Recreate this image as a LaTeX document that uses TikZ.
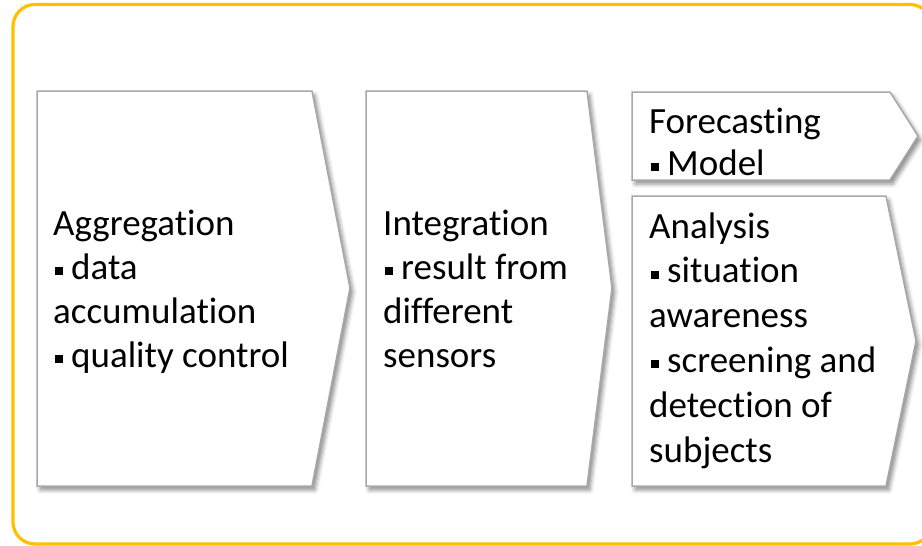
\documentclass[tikz,border=0pt]{standalone}
\usepackage{fontspec}
\setmainfont{Carlito}[Ligatures={NoCommon}]
\usetikzlibrary{shadows.blur}
\definecolor{frameyellow}{HTML}{FFC000}
\definecolor{boxgrey}{HTML}{A8A8A8}
\newcommand\bul{\hspace{2pt}\rule[4pt]{8pt}{8pt}\hspace{8pt}}
\newcommand\stack[2]{\vtop{\baselineskip=#1\relax #2}}
\begin{document}
\begin{tikzpicture}[x=1pt,y=-1pt,
  frame/.style={draw=frameyellow, line width=3.2pt, rounded corners=22pt},
  chevron/.style={draw=boxgrey, line width=1.5pt, fill=white,
    blur shadow={shadow xshift=3pt, shadow yshift=-4pt, shadow blur radius=4pt, shadow opacity=45}},
  txt/.style={anchor=base west, inner sep=0pt, font=\fontsize{37}{44.5}\selectfont}]
\useasboundingbox (0,0) rectangle (922,546);
\begin{scope}
\clip (0,0) rectangle (922,546);
\draw[frame] (13,4.5) rectangle (932,544);
\end{scope}
% chevrons
\draw[chevron] (37,91) -- (312,91) -- (350,288) -- (312,486) -- (37,486) -- cycle;
\draw[chevron] (366,91) -- (587,91) -- (612,288) -- (587,486) -- (366,486) -- cycle;
\draw[chevron] (632,92) -- (890,92) -- (918,136) -- (890,180) -- (632,180) -- cycle;
\draw[chevron] (632,196) -- (886,196) -- (916,341) -- (886,486) -- (632,486) -- cycle;
% texts
\node[txt] (agg) at (53,235) {\stack{44pt}{\hbox{Aggregation}\hbox{\bul data}\hbox{accumulation}\hbox{\bul quality control}}};
\node[txt] (int) at (383,235) {\stack{44pt}{\hbox{Integration}\hbox{\bul result from}\hbox{different}\hbox{sensors}}};
\node[txt] (fore) at (649,133) {\stack{42pt}{\hbox{Forecasting}\hbox{\bul Model}}};
\node[txt] (ana) at (649,238) {\stack{44.8pt}{\hbox{Analysis}\hbox{\bul situation}\hbox{awareness}\hbox{\bul screening and}\hbox{detection of}\hbox{subjects}}};
\end{tikzpicture}
\end{document}
